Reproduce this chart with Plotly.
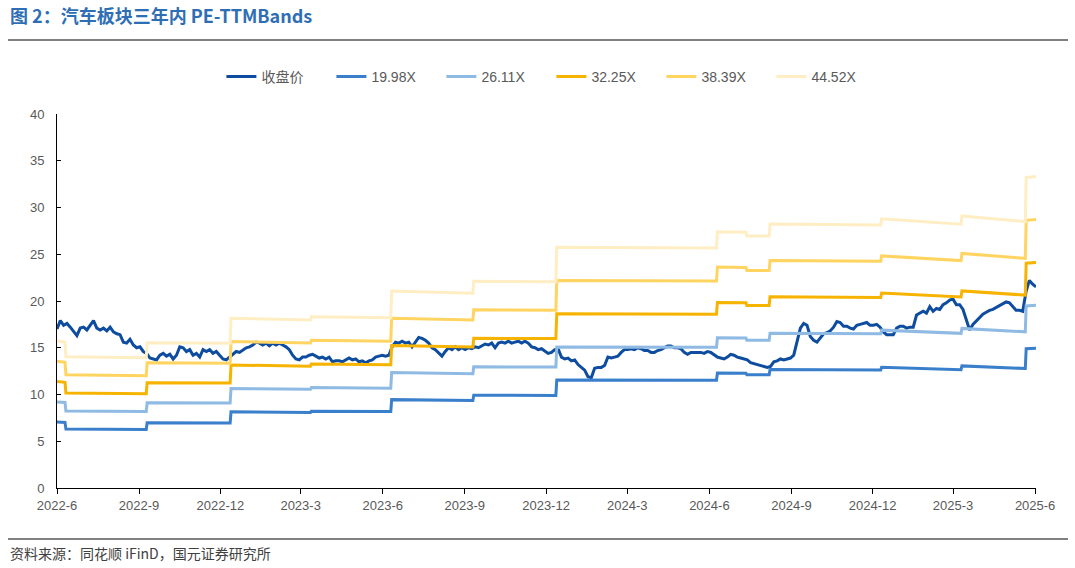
import pandas as pd
import plotly.graph_objects as go

# ---------------- data ----------------
price_start = "2022-06-01"
price_end = "2025-06-02"
close_price = [
    17.0, 17.9, 17.4, 17.6, 17.2, 16.7, 16.3, 17.1, 17.2, 16.9, 17.4, 17.9, 17.1, 16.9, 17.1, 16.8,
    17.2, 16.7, 16.5, 16.4, 15.6, 15.5, 15.9, 15.3, 15.0, 15.1, 14.6, 14.4, 13.9, 13.8, 13.7, 14.2,
    14.4, 14.1, 14.3, 13.8, 14.2, 15.1, 15.0, 14.6, 14.8, 14.2, 14.4, 14.0, 14.8, 14.6, 14.8, 14.4,
    14.6, 14.2, 13.8, 13.7, 14.0, 14.4, 14.6, 14.5, 14.8, 15.0, 15.1, 15.3, 15.6, 15.5, 15.3, 15.5,
    15.2, 15.5, 15.3, 15.5, 15.3, 15.1, 14.8, 14.2, 13.8, 13.7, 14.0, 14.0, 14.2,
    14.3, 14.1, 13.9, 14.0, 13.8, 14.0, 13.5, 13.6, 13.6, 13.5, 13.7, 13.9, 13.7, 13.8, 13.5, 13.6,
    13.4, 13.6, 13.7, 14.0, 14.1, 14.2, 14.1, 14.2, 15.1, 15.6, 15.5, 15.7, 15.5, 15.6, 15.1, 15.6,
    16.1, 16.0, 15.8, 15.5, 15.0, 14.8, 14.4, 14.1, 14.6, 15.0, 14.8, 15.1, 14.8, 15.0, 14.8, 15.0,
    14.9, 15.1, 15.0, 15.2, 15.4, 15.3, 15.5, 15.0, 15.5, 15.6, 15.5, 15.7, 15.5, 15.6, 15.7, 15.5,
    15.7, 15.5, 15.1, 15.0, 14.8, 14.9, 14.6, 14.4, 14.5, 14.8, 14.9,
    14.0, 13.8, 13.9, 13.6, 13.7, 13.2, 12.9, 12.6, 11.9, 11.8, 12.8, 12.9, 12.9, 13.1, 14.0, 13.9,
    14.0, 14.1, 14.5, 14.8, 14.8, 14.9, 14.8, 15.0, 14.9, 14.7, 14.7, 14.5, 14.5, 14.7, 14.8, 15.0,
    15.2, 15.2, 15.0, 15.0, 14.9, 14.5, 14.3, 14.5, 14.5, 14.5, 14.5, 14.4, 14.6, 14.5, 14.2, 14.0,
    13.9, 13.8, 14.0, 14.3, 14.2, 14.0, 13.9, 13.8, 13.7, 13.4, 13.3, 13.2, 13.1, 13.0, 12.9, 13.0,
    13.5, 13.6, 13.8, 13.7, 13.8, 13.9, 14.2, 15.6, 17.1, 17.6, 17.4,
    16.2, 15.8, 15.6, 16.1, 16.5, 16.6, 16.8, 17.2, 17.8, 17.7, 17.3, 17.3, 17.1, 17.0, 17.4, 17.5,
    17.6, 17.7, 17.4, 17.4, 17.5, 17.2, 16.7, 16.4, 16.4, 16.4, 17.1, 17.3, 17.3, 17.1, 17.2, 17.2,
    18.5, 18.7, 18.9, 18.7, 19.4, 18.9, 19.2, 19.1, 19.6, 19.8, 20.1, 20.2, 19.6, 19.6, 19.1, 18.0,
    16.9, 17.5, 17.9, 18.3, 18.6, 18.8, 19.0, 19.1, 19.3, 19.5, 19.7, 19.9, 19.8, 19.4, 19.0, 19.0,
    18.9, 21.0, 22.2, 21.8, 21.5,
]

band_dates = [
    "2022-06-01", "2022-06-10", "2022-06-11", "2022-09-09", "2022-09-10", "2022-12-12", "2022-12-13",
    "2023-03-12", "2023-03-13", "2023-06-10", "2023-06-11", "2023-09-10", "2023-09-11", "2023-12-12",
    "2023-12-13", "2024-06-09", "2024-06-10", "2024-07-12", "2024-07-13", "2024-08-07", "2024-08-08",
    "2024-12-10", "2024-12-11", "2025-03-10", "2025-03-11", "2025-05-21", "2025-05-22", "2025-06-02",
]
band_1998 = [7.05, 7.00, 6.30, 6.25, 6.97, 6.95, 8.15, 8.07, 8.22, 8.17, 9.45, 9.35, 9.92, 9.90,
             11.55, 11.52, 12.30, 12.28, 12.10, 12.10, 12.67, 12.62, 12.92, 12.66, 13.06, 12.78, 14.90, 14.95]
band_2611 = [9.21, 9.15, 8.23, 8.17, 9.11, 9.08, 10.65, 10.55, 10.74, 10.68, 12.35, 12.22, 12.96, 12.94,
             15.09, 15.05, 16.07, 16.05, 15.81, 15.81, 16.56, 16.49, 16.88, 16.54, 17.07, 16.70, 19.47, 19.54]
band_3225 = [11.38, 11.30, 10.17, 10.09, 11.25, 11.22, 13.15, 13.03, 13.27, 13.19, 15.25, 15.09, 16.01, 15.98,
             18.64, 18.59, 19.85, 19.82, 19.53, 19.53, 20.45, 20.37, 20.85, 20.43, 21.08, 20.63, 24.05, 24.13]
band_3839 = [13.55, 13.45, 12.10, 12.01, 13.39, 13.35, 15.66, 15.51, 15.79, 15.70, 18.16, 17.97, 19.06, 19.02,
             22.19, 22.13, 23.63, 23.59, 23.25, 23.25, 24.34, 24.25, 24.82, 24.32, 25.09, 24.56, 28.63, 28.72]
band_4452 = [15.71, 15.60, 14.04, 13.93, 15.53, 15.49, 18.16, 17.98, 18.32, 18.20, 21.06, 20.83, 22.10, 22.06,
             25.74, 25.67, 27.41, 27.36, 26.96, 26.96, 28.23, 28.12, 28.79, 28.21, 29.10, 28.48, 33.20, 33.31]

series_names = ["收盘价", "19.98X", "26.11X", "32.25X", "38.39X", "44.52X"]
tick_labels = ["2022-6", "2022-9", "2022-12", "2023-3", "2023-6", "2023-9", "2023-12",
               "2024-3", "2024-6", "2024-9", "2024-12", "2025-3", "2025-6"]

# ---------------- styling ----------------
colors = ["#0D4C9F", "#3A7FCB", "#8FBAE4", "#F6B300", "#FFD460", "#FFEEC4"]
tick_font = dict(family="Liberation Sans, Arial, Noto Sans CJK SC", size=13, color="#595959")
legend_font = dict(family="Liberation Sans, Arial, Noto Sans CJK SC", size=14, color="#595959")

price_dates = pd.date_range(price_start, price_end, periods=len(close_price))
bdates = pd.to_datetime(band_dates)

fig = go.Figure()
fig.add_trace(go.Scatter(x=price_dates, y=close_price, mode="lines", name=series_names[0],
                         line=dict(color=colors[0], width=3)))
for name, vals, col in zip(series_names[1:], [band_1998, band_2611, band_3225, band_3839, band_4452], colors[1:]):
    fig.add_trace(go.Scatter(x=bdates, y=vals, mode="lines", name=name,
                             line=dict(color=col, width=3)))

tickvals = pd.to_datetime([t + "-01" for t in tick_labels])

W, H = 1075, 568
L, R, T, B = 57, 39, 114, 80
pw, ph = W - L - R, H - T - B


def px_x(x):  # page x -> paper x
    return (x - L) / pw


def px_y(y):  # page y -> paper y
    return (H - B - y) / ph


fig.update_layout(
    width=W, height=H,
    margin=dict(l=L, r=R, t=T, b=B),
    paper_bgcolor="white", plot_bgcolor="white",
    showlegend=True,
    legend=dict(orientation="h", x=0.505, xanchor="center", y=px_y(77), yanchor="middle",
                font=legend_font, itemwidth=30, entrywidth=65, tracegroupgap=0,
                bgcolor="rgba(0,0,0,0)"),
    xaxis=dict(type="date", range=[price_start, price_end], tickvals=tickvals, ticktext=tick_labels,
               showline=True, linecolor="black", linewidth=1, ticks="outside", ticklen=5,
               tickcolor="black", showgrid=False, zeroline=False, tickfont=tick_font),
    yaxis=dict(range=[0, 40], dtick=5, tick0=0, showline=True, linecolor="black", linewidth=1,
               ticks="inside", ticklen=4, tickcolor="black", showgrid=False, zeroline=False,
               tickfont=tick_font, ticklabelstandoff=9),
    font=dict(family="Noto Sans CJK SC"),
)

# title, rules and source note (paper coords outside the plot area)
fig.add_annotation(text="<b>图 2：汽车板块三年内 PE-TTMBands</b>", xref="paper", yref="paper",
                   x=px_x(8), y=px_y(15), xanchor="left", yanchor="middle", showarrow=False,
                   font=dict(family="Noto Sans CJK SC", size=18, color="#2E6EB5"))
fig.add_shape(type="line", xref="paper", yref="paper", x0=px_x(8), x1=px_x(1068),
              y0=px_y(40), y1=px_y(40), line=dict(color="black", width=1))
fig.add_shape(type="line", xref="paper", yref="paper", x0=px_x(8), x1=px_x(1068),
              y0=px_y(539), y1=px_y(539), line=dict(color="black", width=1))
fig.add_annotation(text="资料来源：同花顺 iFinD，国元证券研究所", xref="paper", yref="paper",
                   x=px_x(8), y=px_y(553), xanchor="left", yanchor="middle", showarrow=False,
                   font=dict(family="Noto Sans CJK SC", size=14, color="#404040"))

# remove the default 8px page margin so the figure sits at the window's top-left corner
fig.write_html("out.html", config={"displayModeBar": False},
               post_script="document.body.style.margin='0px';")
